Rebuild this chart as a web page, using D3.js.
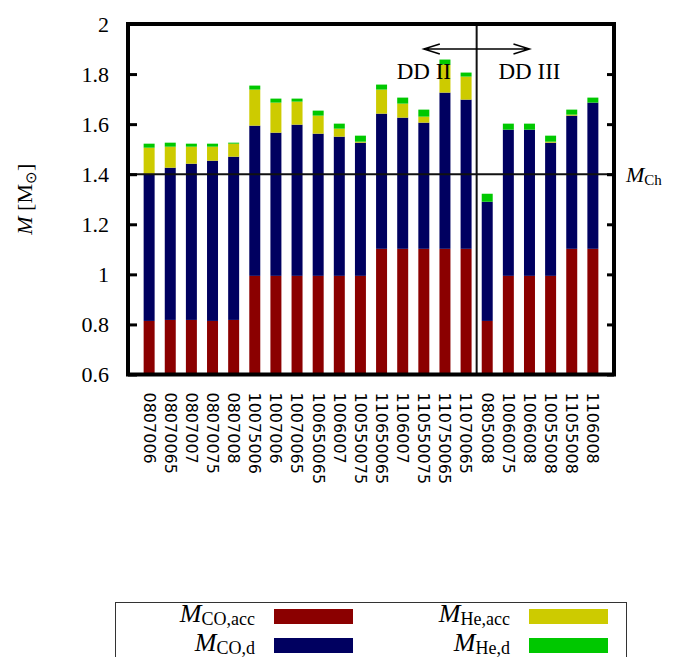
<!DOCTYPE html>
<meta charset="utf-8">
<script src="https://d3js.org/d3.v7.min.js"></script>
<style>
body { margin: 0; background: #fff; }
svg { display: block; }
.serif { font-family: "Liberation Serif", "Times New Roman", serif; }
.xlab text { font-family: "DejaVu Sans", sans-serif; font-size: 16px; }
</style>
<body>
<script>

// models (x categories)
var models = ["0807006", "08070065", "0807007", "08070075", "0807008",
  "10075006", "1007006", "10070065", "100650065", "1006007", "100550075",
  "110650065", "1106007", "110550075", "110750065", "11070065",
  "0805008", "10060075", "1006008", "10055008", "11055008", "1106008"];

// stacked components (solar masses)
var coAcc = [0.814, 0.818, 0.818, 0.814, 0.818,
  0.994, 0.994, 0.994, 0.994, 0.994, 0.994,
  1.102, 1.102, 1.102, 1.102, 1.102,
  0.814, 0.994, 0.994, 0.994, 1.102, 1.102];
var coD = [0.588, 0.608, 0.624, 0.640, 0.652,
  0.600, 0.572, 0.604, 0.568, 0.556, 0.532,
  0.540, 0.524, 0.504, 0.624, 0.596,
  0.476, 0.584, 0.584, 0.532, 0.532, 0.584];
var heAcc = [0.104, 0.084, 0.068, 0.056, 0.052,
  0.144, 0.120, 0.092, 0.072, 0.032, 0.004,
  0.096, 0.056, 0.024, 0.112, 0.092,
  0, 0, 0, 0.004, 0.004, 0];
var heD = [0.016, 0.016, 0.012, 0.012, 0.004,
  0.016, 0.016, 0.012, 0.020, 0.020, 0.024,
  0.020, 0.024, 0.028, 0.020, 0.016,
  0.032, 0.024, 0.024, 0.024, 0.020, 0.020];

var yTicks = [0.6, 0.8, 1, 1.2, 1.4, 1.6, 1.8, 2];
var mCh = 1.4;

var series = [
  {key: "coAcc", sub: "CO,acc", color: "#8b0000"},
  {key: "coD", sub: "CO,d", color: "#000060"},
  {key: "heAcc", sub: "He,acc", color: "#cdcb00"},
  {key: "heD", sub: "He,d", color: "#00c800"}
];

var rows = models.map(function(m, i) {
  return {model: m, coAcc: coAcc[i], coD: coD[i], heAcc: heAcc[i], heD: heD[i]};
});

var W = 676, H = 657;
var plotL = 128, plotR = 614, plotT = 24, plotB = 374.5;

var svg = d3.select("body").append("svg")
  .attr("width", W)
  .attr("height", H);

svg.append("clipPath").attr("id", "plotClip")
  .append("rect")
  .attr("x", plotL).attr("y", plotT)
  .attr("width", plotR - plotL).attr("height", plotB - plotT);

var xScale = d3.scaleBand()
  .domain(models)
  .range([plotL, plotR])
  .paddingInner(0.48)
  .paddingOuter(0.74);

var yScale = d3.scaleLinear()
  .domain([0.6, 2])
  .range([plotB, plotT]);

var xc = function(m) { return xScale(m) + xScale.bandwidth() / 2; };

// stacked bars
var stacked = d3.stack().keys(series.map(function(s) { return s.key; }))(rows);

svg.append("g")
  .attr("clip-path", "url(#plotClip)")
  .selectAll("g")
  .data(stacked)
  .enter().append("g")
  .attr("fill", function(d, i) { return series[i].color; })
  .selectAll("rect")
  .data(function(d) { return d; })
  .enter().append("rect")
  .attr("x", function(d) { return xScale(d.data.model); })
  .attr("y", function(d) { return yScale(d[1]); })
  .attr("width", xScale.bandwidth())
  .attr("height", function(d) { return Math.max(0, yScale(d[0]) - yScale(d[1])); });

// Chandrasekhar line
svg.append("line")
  .attr("x1", plotL).attr("x2", plotR)
  .attr("y1", yScale(mCh)).attr("y2", yScale(mCh))
  .attr("stroke", "#111").attr("stroke-width", 2);

// DD II / DD III divider
var step = xScale.step();
var xDiv = xc("11070065") + step / 2;
svg.append("line")
  .attr("x1", xDiv).attr("x2", xDiv)
  .attr("y1", plotT).attr("y2", plotB)
  .attr("stroke", "#111").attr("stroke-width", 2);

// double arrow
var ax1 = xc("110550075"), ax2 = xc("1006008"), ay = yScale(1.9);
svg.append("path")
  .attr("d", "M" + ax1 + "," + ay + "H" + ax2 +
    "M" + (ax1 + 16) + "," + (ay - 5) + "L" + ax1 + "," + ay + "L" + (ax1 + 16) + "," + (ay + 5) +
    "M" + (ax2 - 16) + "," + (ay - 5) + "L" + ax2 + "," + ay + "L" + (ax2 - 16) + "," + (ay + 5))
  .attr("fill", "none").attr("stroke", "#000").attr("stroke-width", 1.5);

svg.append("text").attr("class", "serif")
  .attr("x", ax1).attr("y", yScale(1.782))
  .attr("text-anchor", "middle").attr("font-size", 23)
  .text("DD II");
svg.append("text").attr("class", "serif")
  .attr("x", ax2).attr("y", yScale(1.782))
  .attr("text-anchor", "middle").attr("font-size", 23)
  .text("DD III");

// axes
var yAxis = d3.axisLeft(yScale)
  .tickValues(yTicks)
  .tickSize(-9)
  .tickPadding(19)
  .tickFormat(d3.format("~g"));

var yAxisGroup = svg.append("g")
  .attr("transform", "translate(" + plotL + ",0)")
  .call(yAxis);
yAxisGroup.select(".domain").remove();
yAxisGroup.selectAll("line").attr("stroke-width", 3);
yAxisGroup.selectAll("text")
  .attr("class", "serif")
  .attr("font-size", 22)
  .attr("fill", "#000");

var yAxisRight = svg.append("g")
  .attr("transform", "translate(" + plotR + ",0)")
  .call(d3.axisRight(yScale).tickValues(yTicks).tickSize(-7).tickFormat(""));
yAxisRight.select(".domain").remove();
yAxisRight.selectAll("line").attr("stroke-width", 3);

var xAxisGroup = svg.append("g")
  .attr("class", "xlab")
  .attr("transform", "translate(0," + plotB + ")")
  .call(d3.axisBottom(xScale).tickSize(0));
xAxisGroup.select(".domain").remove();
xAxisGroup.selectAll("text")
  .attr("transform", "rotate(90)")
  .attr("x", 18)
  .attr("y", 0)
  .attr("dy", "0.35em")
  .attr("fill", "#000")
  .style("text-anchor", "start");

// frame
svg.append("rect")
  .attr("x", plotL).attr("y", plotT)
  .attr("width", plotR - plotL).attr("height", plotB - plotT)
  .attr("fill", "none").attr("stroke", "#000").attr("stroke-width", 4);

// y title
var yt = svg.append("text").attr("class", "serif")
  .attr("transform", "translate(32," + ((plotT + plotB) / 2) + ") rotate(-90)")
  .attr("text-anchor", "middle").attr("font-size", 22);
yt.append("tspan").attr("font-style", "italic").text("M");
yt.append("tspan").text(" [M");
yt.append("tspan").attr("font-size", 15).attr("dy", 4).text("\u2299");
yt.append("tspan").attr("dy", -4).text("]");

// M_Ch label
var mc = svg.append("text").attr("class", "serif")
  .attr("x", 626).attr("y", yScale(mCh) + 8).attr("font-size", 22);
mc.append("tspan").attr("font-style", "italic").text("M");
mc.append("tspan").attr("font-size", 15).attr("dy", 3).text("Ch");

// legend
var legend = svg.append("g");
legend.append("rect")
  .attr("x", 115.5).attr("y", 602.5)
  .attr("width", 511).attr("height", 80)
  .attr("fill", "none").attr("stroke", "#333").attr("stroke-width", 1);

var legPos = [
  {tx: 255, sx: 274, y: 609},
  {tx: 255, sx: 274, y: 638},
  {tx: 510, sx: 529, y: 609},
  {tx: 510, sx: 529, y: 638}
];

series.forEach(function(s, i) {
  var p = legPos[i];
  legend.append("rect")
    .attr("x", p.sx).attr("y", p.y)
    .attr("width", 79).attr("height", 15)
    .attr("fill", s.color);
  var t = legend.append("text").attr("class", "serif")
    .attr("x", p.tx).attr("y", p.y + 13)
    .attr("text-anchor", "end").attr("font-size", 26);
  t.append("tspan").attr("font-style", "italic").text("M");
  t.append("tspan").attr("font-size", 18).attr("dy", 3).text(s.sub);
});

</script>
</body>
